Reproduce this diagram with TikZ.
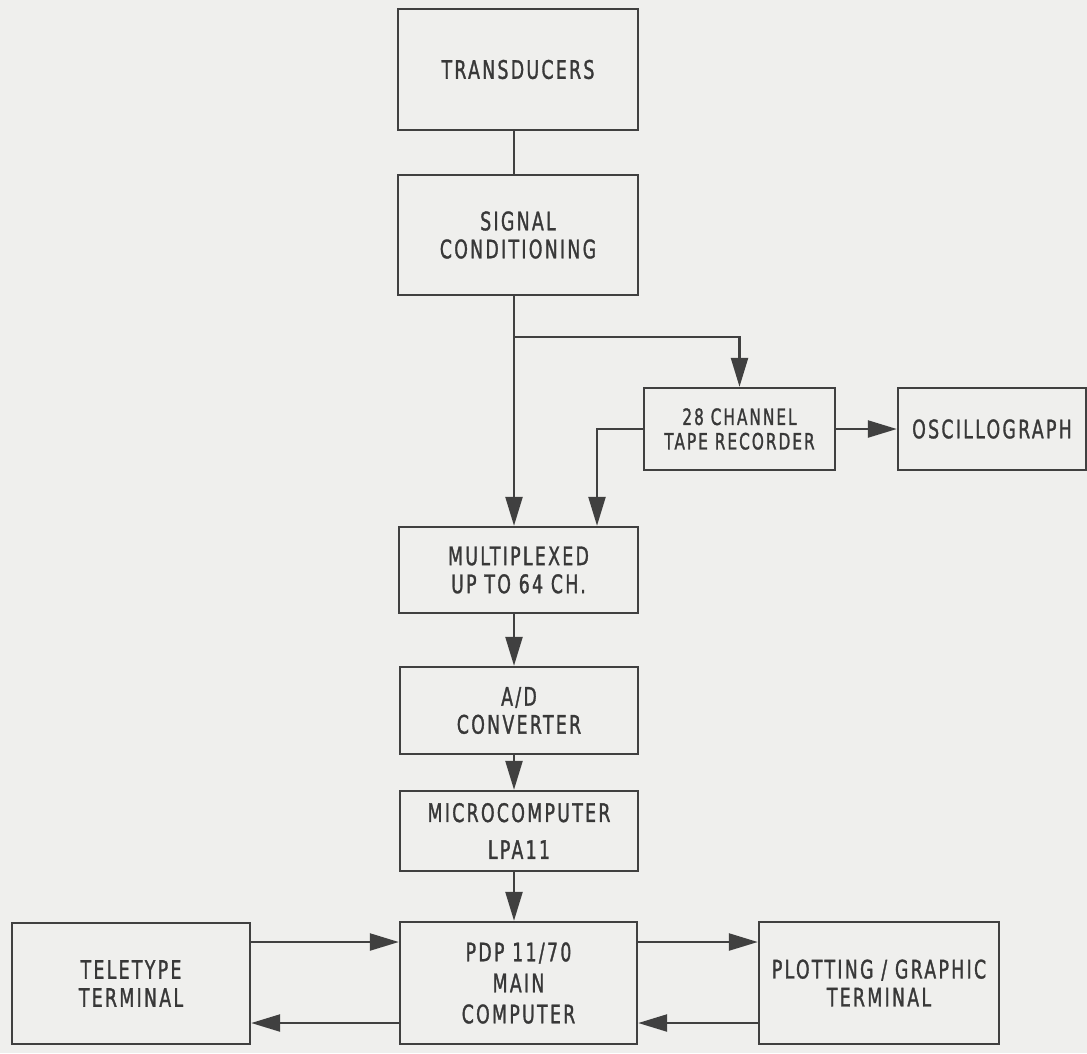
\documentclass[tikz,border=0pt]{standalone}
\usepackage{fontspec}
\setmainfont[FakeStretch=0.68,LetterSpace=9,FakeBold=1.2]{DejaVu Sans}
\usetikzlibrary{arrows.meta}
\definecolor{bg}{HTML}{EFEFED}
\definecolor{ink}{HTML}{404040}
\definecolor{txt}{HTML}{383838}
\begin{document}
\begin{tikzpicture}[x=1pt,y=-1pt,
  box/.style={draw=ink, line width=2.4pt, text=txt, align=center, inner sep=0pt,
    font=\fontsize{25.5}{28}\selectfont},
  ln/.style={draw=ink, line width=2.4pt},
  arr/.style={draw=ink, line width=2.4pt, -{Triangle[length=29pt,width=17pt]}}]
\fill[bg] (0,0) rectangle (1087,1053);
\useasboundingbox (0,0) rectangle (1087,1053);

\node[box, minimum width=240pt, minimum height=121pt] (trans) at (518,69.5) {TRANSDUCERS};
\node[box, minimum width=240pt, minimum height=120pt] (sig) at (518,235) {SIGNAL\\CONDITIONING};
\node[box, minimum width=191pt, minimum height=82pt, font=\fontsize{22.5}{24.5}\selectfont] (tape) at (739.5,429) {28 CHANNEL\\TAPE RECORDER};
\node[box, minimum width=188pt, minimum height=82pt] (osc) at (992,429) {OSCILLOGRAPH};
\node[box, minimum width=239pt, minimum height=86pt] (mux) at (518.5,570) {MULTIPLEXED\\UP TO 64 CH.};
\node[box, minimum width=238pt, minimum height=87pt] (ad) at (519,710.5) {A/D\\CONVERTER};
\node[box, minimum width=238pt, minimum height=80pt, font=\fontsize{25.5}{37}\selectfont] (micro) at (519,831) {MICROCOMPUTER\\LPA11};
\node[box, minimum width=237pt, minimum height=122pt, font=\fontsize{25.5}{31}\selectfont] (pdp) at (518.5,983) {PDP 11/70\\MAIN\\COMPUTER};
\node[box, minimum width=238pt, minimum height=121pt] (tty) at (131,983.5) {TELETYPE\\TERMINAL};
\node[box, minimum width=240pt, minimum height=122pt] (plot) at (879,983) {PLOTTING / GRAPHIC\\TERMINAL};

\coordinate (tx) at (514,0);
\coordinate (tx2) at (597,0);
\coordinate (br) at (514,337);
\coordinate (up) at (0,942);
\coordinate (dn) at (0,1023);

\draw[ln] (trans.south -| tx) -- (sig.north -| tx);
\draw[arr] (sig.south -| tx) -- (mux.north -| tx);
\draw[arr] (br) -| (tape.north);
\draw[arr] (tape.west) -| (mux.north -| tx2);
\draw[arr] (tape.east) -- (osc.west);
\draw[arr] (mux.south -| tx) -- (ad.north -| tx);
\draw[arr] (ad.south -| tx) -- (micro.north -| tx);
\draw[arr] (micro.south -| tx) -- (pdp.north -| tx);
\draw[arr] (tty.east |- up) -- (pdp.west |- up);
\draw[arr] (pdp.west |- dn) -- (tty.east |- dn);
\draw[arr] (pdp.east |- up) -- (plot.west |- up);
\draw[arr] (plot.west |- dn) -- (pdp.east |- dn);
\end{tikzpicture}
\end{document}
